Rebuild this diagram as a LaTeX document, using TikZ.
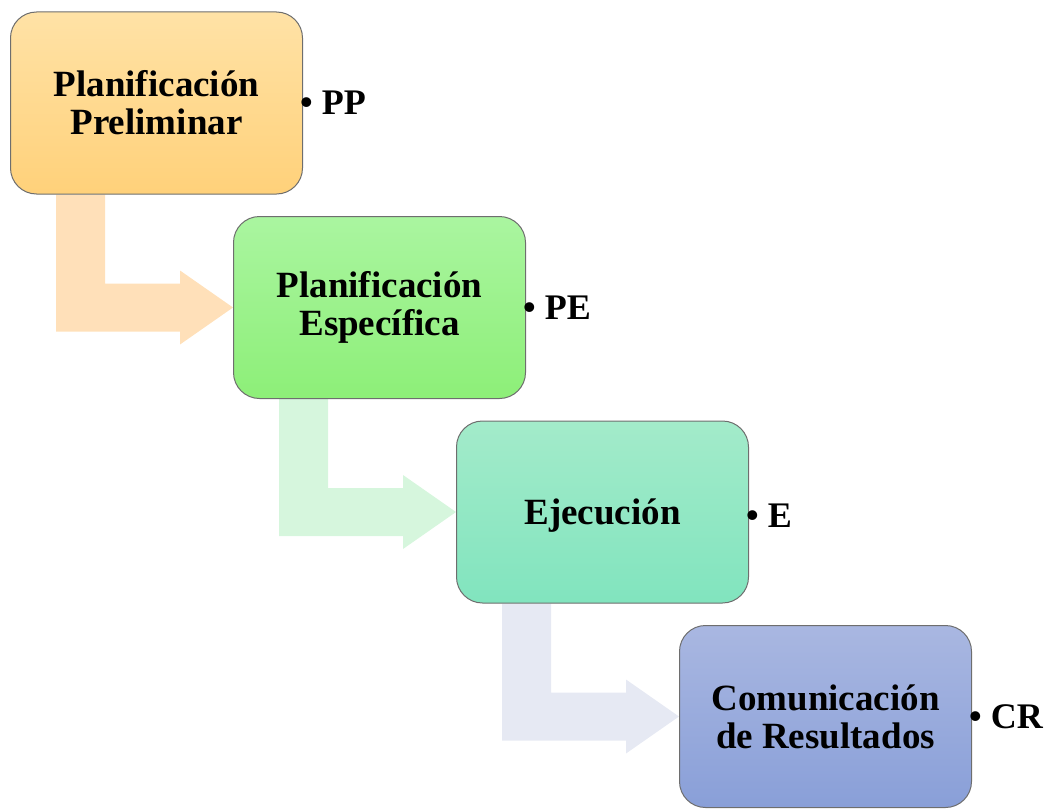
\documentclass[tikz,border=0pt]{standalone}
\usepackage{fontspec}
\setmainfont{Liberation Serif}
\usetikzlibrary{calc,backgrounds}

\definecolor{borde}{HTML}{6E6E6E}
\definecolor{fase1top}{HTML}{FFE2A6}
\definecolor{fase1bot}{HTML}{FFD17A}
\definecolor{fase1flecha}{HTML}{FFE0B9}
\definecolor{fase2top}{HTML}{AAF5A0}
\definecolor{fase2bot}{HTML}{8DEF78}
\definecolor{fase2flecha}{HTML}{D6F6DD}
\definecolor{fase3top}{HTML}{A3EBCA}
\definecolor{fase3bot}{HTML}{81E4BE}
\definecolor{fase3flecha}{HTML}{E6E9F3}
\definecolor{fase4top}{HTML}{A9B7E1}
\definecolor{fase4bot}{HTML}{899FD8}

\tikzset{
	fase/.style={draw=borde, line width=1pt, rounded corners=26pt,
		minimum width=292pt, minimum height=182pt, inner sep=0pt,
		align=center, font=\bfseries\fontsize{37}{38}\selectfont},
	sigla/.style={anchor=west, inner sep=0pt,
		font=\bfseries\fontsize{36}{36}\selectfont}
}

\begin{document}
\begin{tikzpicture}[x=1pt,y=-1pt]
	\useasboundingbox (0,0) rectangle (1051,808);

	\foreach \i/\txt/\sig/\dy in {
		1/{Planificación\\Preliminar}/PP/0,
		2/{Planificación\\Específica}/PE/0,
		3/Ejecución/E/3.5,
		4/{Comunicación\\de Resultados}/CR/0
	}{
		\pgfmathsetmacro\cx{156.5+223*(\i-1)}
		\pgfmathsetmacro\cy{103+204.5*(\i-1)}
		\node[fase, top color=fase\i top, bottom color=fase\i bot] (f\i) at (\cx,\cy) {};
		\node[align=center, font=\bfseries\fontsize{37}{38}\selectfont] (t\i) at ($(f\i)+(0,\dy)$) {\txt};
		\node[sigla, xshift=-3pt, yshift=-\dy pt] (s\i) at (f\i.east) {\textbullet\ \sig};
	}

	% bent arrows behind the boxes
	\begin{scope}[on background layer]
		\foreach \i/\j in {1/2,2/3,3/4}
			\fill[fase\i flecha] ($(f\i.south west)+(46,0)$) -- ($(f\i.south west)+(95,0)$)
				|- ($(f\j.west)+(-53,-24)$) -- ++(0,-13) -- (f\j.west)
				-- ($(f\j.west)+(-53,37)$) -- ++(0,-13)
				-| ($(f\i.south west)+(46,0)$) -- cycle;
	\end{scope}
\end{tikzpicture}
\end{document}
